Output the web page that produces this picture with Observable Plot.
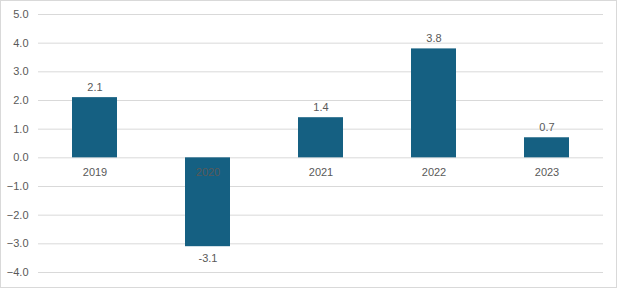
<!DOCTYPE html>
<html>
<head>
<meta charset="utf-8">
<script src="https://cdn.jsdelivr.net/npm/d3@7"></script>
<script src="https://cdn.jsdelivr.net/npm/@observablehq/plot@0.6"></script>
<style>
  body { margin: 0; background: #fff; }
  #wrap { position: relative; width: 617px; height: 288px; }
  #wrap svg { position: absolute; left: 0; top: 0; }
  #border { position: absolute; left: 0; top: 0; width: 617px; height: 288px; box-sizing: border-box; border: 1px solid #d9d9d9; pointer-events: none; }
</style>
</head>
<body>
<div id="wrap"><div id="border"></div></div>
<script>
const years = ["2019", "2020", "2021", "2022", "2023"];
const values = [2.1, -3.1, 1.4, 3.8, 0.7];
const yTicks = [-4, -3, -2, -1, 0, 1, 2, 3, 4, 5];

const data = years.map((y, i) => ({year: y, value: values[i]}));
const textColor = "#595959";

const chart = Plot.plot({
  width: 617,
  height: 288,
  marginLeft: 38,
  marginRight: 14,
  marginTop: 14,
  marginBottom: 16,
  style: {fontFamily: "'Liberation Sans', Arial, sans-serif", fontSize: "11px", color: textColor, background: "transparent"},
  x: {domain: years, paddingInner: 0.6, paddingOuter: 0.3, axis: null},
  y: {domain: [-4, 5], label: null},
  marks: [
    Plot.ruleY(yTicks, {stroke: "#d9d9d9", strokeWidth: 1, strokeOpacity: 1}),
    Plot.barY(data, {x: "year", y: "value", fill: "#156082"}),
    Plot.text(data, {x: "year", y: 0, text: "year", dy: 15, fill: textColor, fontSize: 11}),
    Plot.text(data.filter(d => d.value >= 0), {x: "year", y: "value", text: d => d.value.toFixed(1), dy: -10, fill: textColor, fontSize: 11}),
    Plot.text(data.filter(d => d.value < 0), {x: "year", y: "value", text: d => d.value.toFixed(1), dy: 12, fill: textColor, fontSize: 11}),
    Plot.axisY({ticks: yTicks, tickFormat: d3.format(".1f"), tickSize: 0, tickPadding: 10, fill: textColor, fontSize: 11, label: null})
  ]
});
document.getElementById("wrap").prepend(chart);
</script>
</body>
</html>
